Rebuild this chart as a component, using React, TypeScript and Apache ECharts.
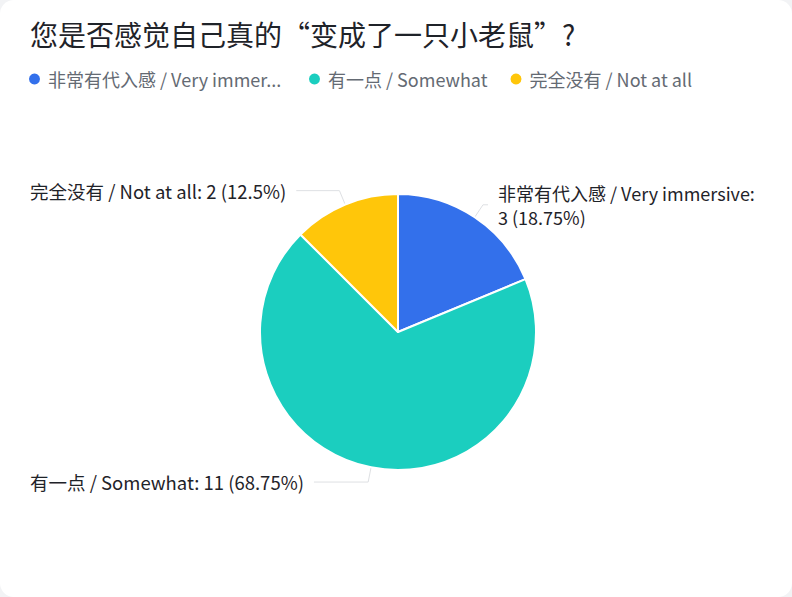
import React, { useEffect, useRef } from 'react';
import * as echarts from 'echarts';

const categories = ['非常有代入感 / Very immersive', '有一点 / Somewhat', '完全没有 / Not at all'];
const counts = [3, 11, 2];
const colors = ['#3370EB', '#1BCEBF', '#FFC60A'];

const FONT = '"Noto Sans CJK SC", "Noto Sans", sans-serif';

const App: React.FC = () => {
  const chartRef = useRef<HTMLDivElement>(null);

  useEffect(() => {
    if (!chartRef.current) return;
    const chart = echarts.init(chartRef.current, null, { renderer: 'svg' });

    const option = {
      animation: false,
      color: colors,
      textStyle: { fontFamily: FONT },
      title: {
        text: '您是否感觉自己真的“变成了一只小老鼠”?',
        left: 30,
        top: 17,
        padding: 0,
        textStyle: {
          fontSize: 28,
          fontWeight: 'normal',
          color: '#1f2329',
          lineHeight: 34,
          fontFamily: FONT,
        },
      },
      legend: {
        left: 27,
        top: 68,
        padding: 0,
        icon: 'circle',
        itemWidth: 17,
        itemHeight: 13,
        itemGap: 21,
        textStyle: { fontSize: 18, color: '#646a73', lineHeight: 22, fontFamily: FONT },
        data: categories.map((name, i) =>
          i === 0
            ? { name, textStyle: { width: 238, overflow: 'truncate', ellipsis: '...' } }
            : { name }
        ),
      },
      series: [
        {
          type: 'pie',
          center: [398, 332],
          radius: 138,
          startAngle: 90,
          itemStyle: { borderColor: '#ffffff', borderWidth: 2 },
          label: {
            show: true,
            formatter: '{b}: {c} ({d}%)',
            fontSize: 18.5,
            lineHeight: 24,
            color: '#1f2329',
            fontFamily: FONT,
            alignTo: 'edge',
            edgeDistance: 30,
            distanceToLabelLine: 10,
            overflow: 'break',
          },
          labelLine: {
            length: 15,
            length2: 5,
            lineStyle: { color: '#dee0e3', width: 1 },
          },
          emphasis: { disabled: true },
          data: categories.map((name, i) =>
            i === 0
              ? {
                  name,
                  value: counts[i],
                  label: { alignTo: 'none', fontSize: 18, width: 265, overflow: 'break' },
                }
              : { name, value: counts[i] }
          ),
        },
      ],
    };

    chart.setOption(option);
    return () => {
      chart.dispose();
    };
  }, []);

  return (
    <div style={{ position: 'fixed', left: 0, top: 0, width: 792, height: 597, background: '#f2f3f5' }}>
      <div style={{ width: 792, height: 597, background: '#ffffff', borderRadius: 14, overflow: 'hidden' }}>
        <div ref={chartRef} style={{ width: 792, height: 597 }} />
      </div>
    </div>
  );
};

export default App;
